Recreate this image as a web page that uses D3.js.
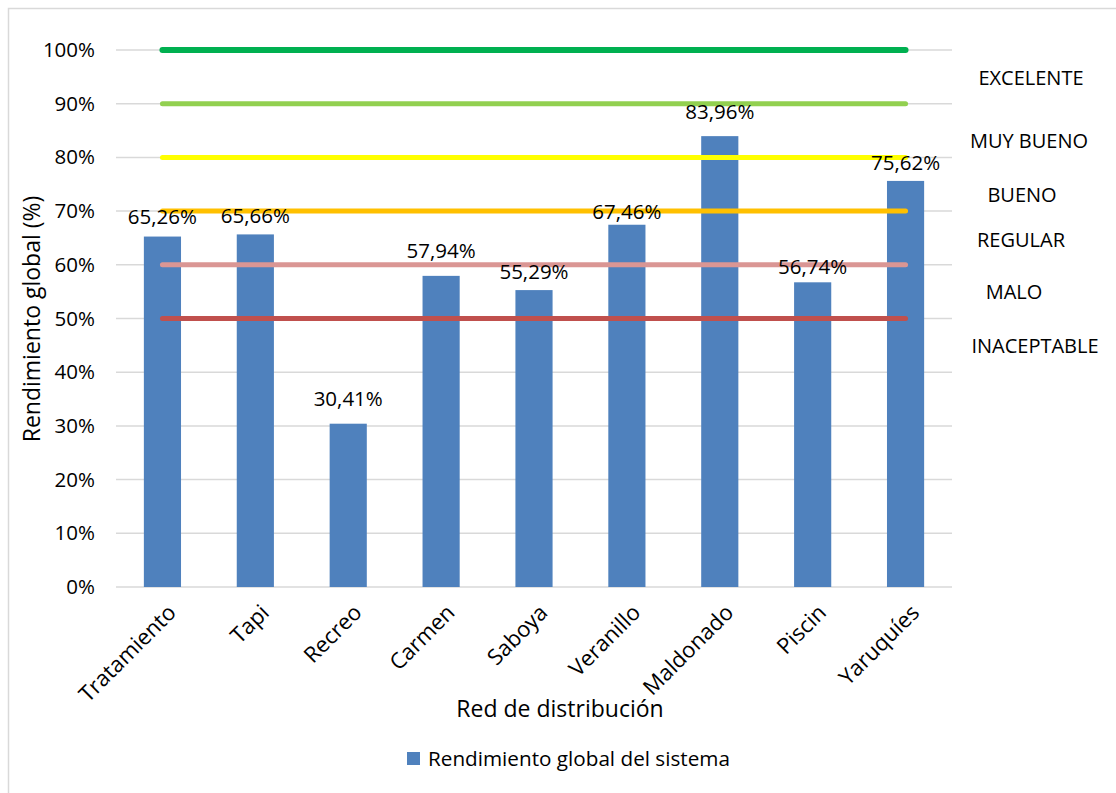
<!DOCTYPE html>
<html>
<head>
<meta charset="utf-8">
<script src="https://cdn.jsdelivr.net/npm/d3@7"></script>
<style>
  html, body { margin: 0; padding: 0; background: #fff; }
  svg { display: block; font-family: "Open Sans", Lato, sans-serif; }
</style>
</head>
<body>
<svg id="chart" width="1116" height="793"></svg>
<script>
// Distribution networks and their overall system efficiency (%)
const categories = ["Tratamiento", "Tapi", "Recreo", "Carmen", "Saboya", "Veranillo", "Maldonado", "Piscin", "Yaruquíes"];
const values = [65.26, 65.66, 30.41, 57.94, 55.29, 67.46, 83.96, 56.74, 75.62];

// Classification thresholds drawn as horizontal reference series
const thresholdValues = [100, 90, 80, 70, 60, 50];

// Rating bands written at the right side, with the level (%) where each sits
const ratingLabels = ["EXCELENTE", "MUY BUENO", "BUENO", "REGULAR", "MALO", "INACEPTABLE"];
const ratingLevels = [94.8, 83.1, 73.0, 64.6, 54.9, 44.9];

const yTicks = [0, 10, 20, 30, 40, 50, 60, 70, 80, 90, 100];

// ---- styling / layout ----
const thresholdColors = ["#00B050", "#92D050", "#FFFF00", "#FFC000", "#DA9694", "#C0504D"];
const thresholdWidths = [6, 5, 5, 5, 5, 5];
const ratingCenterX = [1031, 1029, 1022, 1021, 1014, 1035];
// gap in px between each bar top and the baseline of its value label
const labelGap = [12.5, 11.5, 17.5, 18, 11, 5.5, 17, 8, 11];

const svg = d3.select("#chart");

// outer frame
svg.append("rect")
  .attr("x", 8.5).attr("y", 8.5)
  .attr("width", 1120).attr("height", 800)
  .attr("fill", "none").attr("stroke", "#d9d9d9").attr("stroke-width", 1.5);

const plot = { left: 116, right: 952, top: 50, bottom: 587 };

const x = d3.scaleBand().domain(categories).range([plot.left, plot.right]).paddingInner(0.6).paddingOuter(0.3);
const xc = d3.scalePoint().domain(categories).range([plot.left, plot.right]).padding(0.5);
const y = d3.scaleLinear().domain([0, 100]).range([plot.bottom, plot.top]);

// horizontal gridlines
svg.append("g")
  .selectAll("line")
  .data(yTicks)
  .join("line")
  .attr("x1", plot.left).attr("x2", plot.right)
  .attr("y1", d => y(d)).attr("y2", d => y(d))
  .attr("stroke", "#d9d9d9").attr("stroke-width", 1.5);

// y axis labels
const yAxis = svg.append("g")
  .attr("transform", `translate(${plot.left},0)`)
  .call(d3.axisLeft(y).tickValues(yTicks).tickFormat(d => d + "%").tickSize(0).tickPadding(21));
yAxis.select(".domain").remove();
yAxis.selectAll("text")
  .attr("font-size", 20.5)
  .attr("fill", "#000")
  .attr("font-family", "'Open Sans', Lato, sans-serif");

// bars
svg.append("g")
  .selectAll("rect")
  .data(values)
  .join("rect")
  .attr("x", (d, i) => x(categories[i]))
  .attr("width", x.bandwidth())
  .attr("y", d => y(d))
  .attr("height", d => y(0) - y(d))
  .attr("fill", "#4F81BD");

// threshold lines
const line = d3.line().x(d => xc(d.c)).y(d => y(d.v));
svg.append("g")
  .selectAll("path")
  .data(thresholdValues)
  .join("path")
  .attr("d", v => line(categories.map(c => ({ c, v }))))
  .attr("fill", "none")
  .attr("stroke", (d, i) => thresholdColors[i])
  .attr("stroke-width", (d, i) => thresholdWidths[i])
  .attr("stroke-linecap", "round");

// value labels above bars
const fmt = v => v.toFixed(2).replace(".", ",") + "%";
svg.append("g")
  .selectAll("text")
  .data(values)
  .join("text")
  .attr("x", (d, i) => xc(categories[i]))
  .attr("y", (d, i) => y(d) - labelGap[i])
  .attr("text-anchor", "middle")
  .attr("font-size", 20.5)
  .attr("fill", "#000")
  .text(fmt);

// x axis category labels (rotated)
svg.append("g")
  .selectAll("text")
  .data(categories)
  .join("text")
  .attr("transform", d => `translate(${xc(d) + 15},${plot.bottom + 27}) rotate(-45)`)
  .attr("text-anchor", "end")
  .attr("font-size", 22)
  .attr("fill", "#000")
  .text(d => d);

// rating band labels
svg.append("g")
  .selectAll("text")
  .data(ratingLabels)
  .join("text")
  .attr("x", (d, i) => ratingCenterX[i])
  .attr("y", (d, i) => y(ratingLevels[i]))
  .attr("dy", "0.35em")
  .attr("text-anchor", "middle")
  .attr("font-size", 20)
  .attr("fill", "#000")
  .text(d => d);

// axis titles
svg.append("text")
  .attr("transform", `translate(40,319) rotate(-90)`)
  .attr("text-anchor", "middle")
  .attr("font-size", 23)
  .attr("fill", "#000")
  .text("Rendimiento global (%)");

svg.append("text")
  .attr("x", 560).attr("y", 717)
  .attr("text-anchor", "middle")
  .attr("font-size", 23)
  .attr("fill", "#000")
  .text("Red de distribución");

// legend
const legend = svg.append("g").attr("transform", "translate(407,752)");
legend.append("rect").attr("width", 13).attr("height", 13).attr("fill", "#4F81BD");
legend.append("text")
  .attr("x", 21).attr("y", 7)
  .attr("dy", "0.35em")
  .attr("font-size", 20.7)
  .attr("fill", "#000")
  .text("Rendimiento global del sistema");
</script>
</body>
</html>
